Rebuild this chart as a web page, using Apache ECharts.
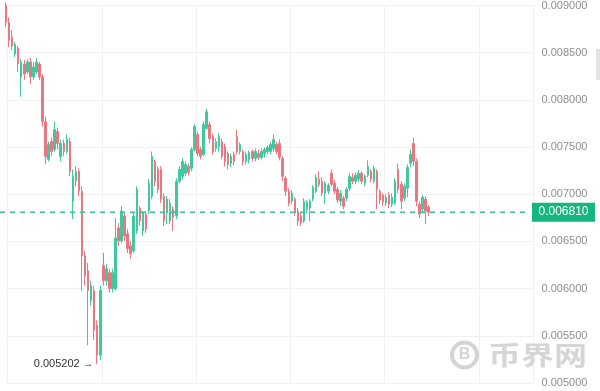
<!DOCTYPE html>
<html><head><meta charset="utf-8">
<script src="https://cdn.jsdelivr.net/npm/echarts/dist/echarts.min.js"></script>
<style>html,body{margin:0;padding:0;background:#fff;overflow:hidden}#c{width:600px;height:391px}</style>
</head><body><div id="c"></div>
<script>
const openPrices = [
0.009001,0.008822,0.008664,0.008485,0.008549,0.008243,0.008380,0.008296,0.008401,0.008243,
0.008296,0.008380,0.008243,0.007769,0.007369,0.007559,0.007475,0.007664,0.007401,0.007538,
0.007453,0.007559,0.006927,0.007138,0.007243,0.007032,0.006348,0.006190,0.005874,0.005979,
0.005611,0.005295,0.006243,0.006085,0.006169,0.006000,0.006000,0.006643,0.006506,0.006769,
0.006580,0.006453,0.006400,0.006611,0.006853,0.006611,0.006790,0.006822,0.006980,0.007348,
0.007264,0.007264,0.006980,0.006801,0.006716,0.006843,0.006769,0.007138,0.007190,0.007222,
0.007296,0.007275,0.007475,0.007633,0.007475,0.007422,0.007696,0.007738,0.007611,0.007485,
0.007506,0.007559,0.007506,0.007432,0.007327,0.007422,0.007611,0.007453,0.007453,0.007348,
0.007369,0.007453,0.007380,0.007432,0.007390,0.007432,0.007453,0.007453,0.007485,0.007527,
0.007538,0.007380,0.007169,0.007032,0.006927,0.006948,0.006822,0.006769,0.006716,0.006843,
0.006853,0.006948,0.007032,0.007159,0.007138,0.007011,0.007032,0.007222,0.007117,0.007053,
0.006927,0.006959,0.006959,0.007064,0.007180,0.007138,0.007159,0.007222,0.007117,0.007201,
0.007243,0.007138,0.007243,0.007032,0.006990,0.006906,0.006990,0.006895,0.006906,0.007264,
0.007106,0.006959,0.007064,0.007327,0.007538,0.007348,0.006895,0.006843,0.006948,0.006864];
const closePrices = [
0.008822,0.008633,0.008570,0.008591,0.008380,0.008401,0.008275,0.008401,0.008243,0.008349,
0.008401,0.008243,0.007769,0.007401,0.007527,0.007453,0.007685,0.007538,0.007538,0.007453,
0.007580,0.007243,0.007190,0.007243,0.007032,0.006348,0.006137,0.005979,0.006032,0.005558,
0.005295,0.005979,0.006085,0.006211,0.006000,0.006169,0.006537,0.006506,0.006822,0.006559,
0.006422,0.006369,0.006769,0.007053,0.006716,0.006801,0.006632,0.007117,0.007401,0.007138,
0.007053,0.006948,0.006716,0.006948,0.006906,0.006759,0.007138,0.007264,0.007348,0.007317,
0.007232,0.007475,0.007717,0.007432,0.007401,0.007738,0.007875,0.007590,0.007453,0.007559,
0.007611,0.007401,0.007348,0.007317,0.007401,0.007348,0.007453,0.007527,0.007348,0.007422,
0.007443,0.007380,0.007453,0.007390,0.007453,0.007475,0.007496,0.007527,0.007580,0.007453,
0.007390,0.007190,0.007032,0.006906,0.007011,0.006801,0.006716,0.006695,0.006927,0.006916,
0.006927,0.007075,0.007180,0.007106,0.007011,0.007117,0.007096,0.007106,0.007032,0.006938,
0.007011,0.006874,0.007053,0.007190,0.007138,0.007201,0.007222,0.007138,0.007190,0.007296,
0.007159,0.007275,0.007053,0.006938,0.006916,0.006969,0.006895,0.006969,0.007138,0.007053,
0.006927,0.007085,0.007285,0.007422,0.007348,0.006927,0.006790,0.006969,0.006822,0.006810];
const lowPrices = [
0.008770,0.008559,0.008528,0.008454,0.008296,0.008033,0.008212,0.008275,0.008170,0.008212,
0.008275,0.008212,0.007717,0.007317,0.007348,0.007401,0.007453,0.007475,0.007348,0.007401,
0.007432,0.007190,0.006737,0.007085,0.006980,0.005979,0.006032,0.005400,0.005821,0.005453,
0.005202,0.005242,0.006032,0.006032,0.005958,0.005958,0.005979,0.006453,0.006485,0.006506,
0.006379,0.006316,0.006379,0.006580,0.006664,0.006559,0.006590,0.006790,0.006948,0.007085,
0.007011,0.006906,0.006664,0.006685,0.006685,0.006611,0.006737,0.007117,0.007159,0.007190,
0.007201,0.007243,0.007453,0.007401,0.007369,0.007401,0.007685,0.007538,0.007422,0.007453,
0.007453,0.007369,0.007296,0.007264,0.007285,0.007306,0.007422,0.007422,0.007306,0.007317,
0.007327,0.007348,0.007348,0.007359,0.007369,0.007390,0.007422,0.007422,0.007453,0.007422,
0.007359,0.007138,0.006980,0.006874,0.006895,0.006769,0.006664,0.006664,0.006695,0.006801,
0.006716,0.006927,0.007011,0.007075,0.006980,0.006895,0.007001,0.007085,0.007001,0.006906,
0.006874,0.006843,0.006927,0.007032,0.007106,0.007106,0.007127,0.007106,0.007085,0.007180,
0.007127,0.007117,0.006843,0.006895,0.006874,0.006874,0.006853,0.006864,0.006885,0.007011,
0.006843,0.006927,0.006969,0.007285,0.007296,0.006874,0.006748,0.006811,0.006685,0.006769];
const highPrices = [
0.009033,0.008875,0.008738,0.008612,0.008570,0.008433,0.008422,0.008433,0.008443,0.008401,
0.008443,0.008401,0.008275,0.007822,0.007559,0.007601,0.007769,0.007706,0.007580,0.007580,
0.007633,0.007601,0.007264,0.007296,0.007275,0.007085,0.006400,0.006274,0.006085,0.006032,
0.005664,0.006032,0.006379,0.006264,0.006211,0.006211,0.006748,0.006695,0.006874,0.006801,
0.006632,0.006506,0.006801,0.007085,0.006874,0.006822,0.006822,0.007159,0.007453,0.007369,
0.007296,0.007296,0.007011,0.006980,0.006948,0.006874,0.007169,0.007296,0.007380,0.007348,
0.007327,0.007496,0.007748,0.007664,0.007506,0.007769,0.007906,0.007769,0.007643,0.007590,
0.007643,0.007590,0.007538,0.007453,0.007432,0.007453,0.007685,0.007548,0.007475,0.007453,
0.007464,0.007475,0.007485,0.007475,0.007485,0.007496,0.007517,0.007548,0.007633,0.007559,
0.007580,0.007401,0.007190,0.007064,0.007043,0.006969,0.006853,0.006801,0.006959,0.006938,
0.006948,0.007096,0.007211,0.007243,0.007180,0.007138,0.007117,0.007264,0.007148,0.007075,
0.007043,0.006980,0.007075,0.007222,0.007222,0.007232,0.007254,0.007243,0.007211,0.007359,
0.007264,0.007306,0.007264,0.007053,0.007011,0.007001,0.007022,0.007011,0.007169,0.007327,
0.007138,0.007117,0.007317,0.007475,0.007601,0.007380,0.006927,0.006990,0.006980,0.006885];
const currentPrice = 0.006810;
const slotCount = 174;
const categories = Array.from({length: slotCount}, (_, i) => String(i));
const yMin = 0.005, yMax = 0.009, yStep = 0.0005;

const candles = openPrices.map((o, i) => [o, closePrices[i], lowPrices[i], highPrices[i]]);

const chart = echarts.init(document.getElementById('c'), null, {renderer: 'canvas'});
const FONT = 'Liberation Sans, Arial, sans-serif';
const GRID_LEFT = 4.5, GRID_RIGHT_X = 533.5;
chart.setOption({
  animation: false,
  backgroundColor: '#ffffff',
  grid: {left: GRID_LEFT, right: 600 - GRID_RIGHT_X, top: 3, bottom: 8},
  xAxis: {
    type: 'category', data: categories, boundaryGap: true,
    axisLine: {show: false}, axisTick: {show: false}, axisLabel: {show: false},
    splitLine: {show: true, interval: (idx) => idx % 31 === 1, lineStyle: {color: '#eff2f5', width: 1}}
  },
  yAxis: {
    type: 'value', position: 'right', min: yMin, max: yMax, interval: yStep,
    axisLine: {show: true, lineStyle: {color: '#eef0f2'}}, axisTick: {show: false},
    axisLabel: {color: '#8e8e8e', fontSize: 11, fontFamily: FONT, margin: 8, formatter: v => v.toFixed(6)},
    splitLine: {show: true, lineStyle: {color: '#eff2f5', width: 1}}
  },
  series: [{
    type: 'candlestick', data: candles, clip: false, barWidth: 2,
    itemStyle: {color: '#42c89f', color0: '#ea7780', borderColor: '#42c89f', borderColor0: '#ea7780', borderWidth: 1},
    markPoint: {
      silent: true, symbol: 'circle', symbolSize: 1,
      itemStyle: {color: 'rgba(0,0,0,0)'},
      data: [{type: 'min', valueDim: 'lowest'}],
      label: {
        show: true, position: 'left', distance: 3,
        formatter: p => Number(p.value).toFixed(6) + ' →',
        color: '#333333', fontSize: 11, fontFamily: FONT
      }
    }
  }]
});

// current price line + tag, positioned through the chart's own y scale
const py = chart.convertToPixel({yAxisIndex: 0}, currentPrice);
chart.setOption({
  graphic: [
    {type: 'line', shape: {x1: 0, y1: py, x2: GRID_RIGHT_X - 6, y2: py}, style: {stroke: '#3dbf9c', lineWidth: 1.5, lineDash: [5, 5]}, silent: true, z: 50},
    {type: 'rect', shape: {x: 532, y: py - 9.5, width: 63, height: 19}, style: {fill: '#16b67f'}, silent: true, z: 60},
    {type: 'text', x: 563.5, y: py, style: {text: currentPrice.toFixed(6), fill: '#ffffff', font: '12px ' + FONT, textAlign: 'center', textVerticalAlign: 'middle'}, silent: true, z: 61},
    {type: 'rect', shape: {x: 596, y: 49, width: 4, height: 31}, style: {fill: '#e3e3e3'}, silent: true},
    {type: 'circle', shape: {cx: 464.5, cy: 355, r: 12.5}, style: {fill: 'none', stroke: '#d4d4d4', lineWidth: 4}, silent: true, z: 100},
    {type: 'text', x: 464.5, y: 355, style: {text: 'B', fill: '#d4d4d4', font: 'bold 16px ' + FONT, textAlign: 'center', textVerticalAlign: 'middle'}, silent: true, z: 100},
    {type: 'text', x: 488, y: 355, scaleX: 1.27, style: {text: '币界网', fill: '#d6d6d6', font: 'bold 26px "Noto Sans CJK SC"', textAlign: 'left', textVerticalAlign: 'middle'}, silent: true, z: 100}
  ]
});
</script>
</body></html>
